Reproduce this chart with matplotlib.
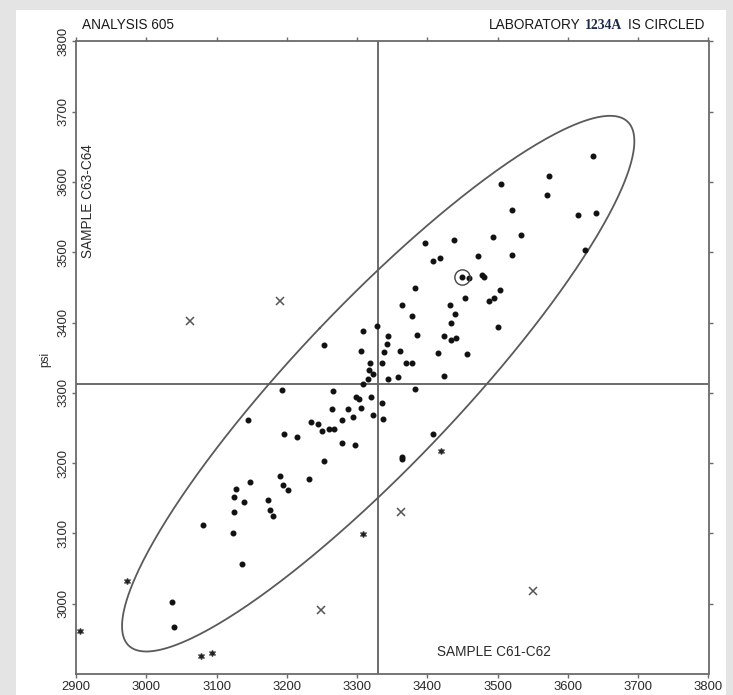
import numpy as np
import matplotlib
matplotlib.use("Agg")
import matplotlib.pyplot as plt
from matplotlib import font_manager as fm
from matplotlib.patches import Rectangle

# ---------------- data ----------------
dot_x = [3635, 3573, 3570, 3505, 3520, 3614, 3640, 3397, 3438, 3493, 3533, 3624,
         3408, 3418, 3472, 3520, 3459, 3477, 3481, 3383, 3504, 3453, 3487, 3495,
         3364, 3432, 3378, 3439, 3433, 3328, 3309, 3500, 3344, 3385, 3423, 3433,
         3441, 3342, 3306, 3338, 3361, 3415, 3456, 3318, 3335, 3369, 3378, 3317,
         3323, 3344, 3358, 3424, 3316, 3309, 3265, 3382, 3299, 3302, 3320, 3335,
         3306, 3287, 3264, 3253, 3193, 3323, 3337, 3145, 3235, 3245, 3250, 3260,
         3267, 3279, 3294, 3196, 3214, 3278, 3297, 3253, 3190, 3148, 3194, 3128,
         3202, 3125, 3231, 3139, 3173, 3176, 3180, 3125, 3081, 3123, 3136, 3037,
         3039, 3408, 3364, 3364]
dot_y = [3637, 3609, 3582, 3597, 3560, 3553, 3556, 3513, 3518, 3522, 3524, 3503,
         3487, 3492, 3495, 3496, 3464, 3467, 3465, 3449, 3446, 3435, 3431, 3435,
         3425, 3425, 3409, 3412, 3400, 3395, 3388, 3393, 3381, 3382, 3381, 3375,
         3378, 3369, 3359, 3358, 3359, 3357, 3355, 3343, 3342, 3343, 3343, 3333,
         3327, 3320, 3323, 3324, 3319, 3312, 3303, 3305, 3294, 3291, 3294, 3286,
         3279, 3277, 3277, 3368, 3304, 3269, 3263, 3262, 3258, 3256, 3246, 3248,
         3248, 3262, 3265, 3241, 3237, 3229, 3226, 3203, 3181, 3173, 3169, 3163,
         3162, 3152, 3177, 3145, 3147, 3133, 3125, 3131, 3112, 3101, 3056, 3002,
         2967, 3242, 3209, 3206]

circled_x = [3449]
circled_y = [3465]

cross_x = [3062, 3190, 3249, 3363, 3550]
cross_y = [3402, 3431, 2991, 3131, 3018]

star_x = [2972, 2905, 3078, 3093, 3308, 3420]
star_y = [3033, 2961, 2926, 2930, 3099, 3217]

median_x = 3330
median_y = 3313
ell_var_x = 132860
ell_var_y = 145161
ell_cov = 125700

x_ticks = [2900, 3000, 3100, 3200, 3300, 3400, 3500, 3600, 3700, 3800]
y_ticks = [3000, 3100, 3200, 3300, 3400, 3500, 3600, 3700, 3800]

# ---------------- fonts ----------------
names = {f.name for f in fm.fontManager.ttflist}
if "Liberation Sans Narrow" in names:
    SANS = ["Liberation Sans Narrow", "DejaVu Sans"]
    fs = 11.0
else:
    SANS = ["Liberation Sans", "DejaVu Sans"]
    fs = 9.4
plt.rcParams["font.family"] = SANS

# ---------------- figure ----------------
W, H = 733, 695
fig = plt.figure(figsize=(W / 100, H / 100), dpi=100)
fig.patch.set_facecolor("#e4e4e4")
fig.patches.append(Rectangle((16 / W, 0), (726 - 16) / W, (H - 10) / H,
                             transform=fig.transFigure, facecolor="white",
                             edgecolor="none", zorder=-10))

left, right, top, bottom = 76, 708.5, 41.3, 674
ax = fig.add_axes([left / W, 1 - bottom / H, (right - left) / W, (bottom - top) / H])
ax.set_facecolor("white")
ax.set_xlim(2900, 3800)
ax.set_ylim(2900, 3800)

for s in ax.spines.values():
    s.set_color("#6a6a6a")
    s.set_linewidth(1.3)

ax.set_xticks(x_ticks)
ax.set_yticks(y_ticks)
ax.set_xticklabels([str(v) for v in x_ticks])
ax.set_yticklabels([str(v) for v in y_ticks], rotation=90, va="center")
ax.tick_params(axis="both", direction="out", length=3, width=1, color="#6a6a6a",
               labelsize=fs, labelcolor="#2a2a2a", top=True, right=True)
ax.tick_params(axis="x", pad=2)
ax.tick_params(axis="y", pad=2)

# crosshair (medians)
ax.axvline(median_x, color="#6a6a6a", lw=1.4, zorder=1)
ax.axhline(median_y, color="#6a6a6a", lw=1.4, zorder=1)

# ellipse
M = np.array([[ell_var_x, ell_cov], [ell_cov, ell_var_y]])
vals, vecs = np.linalg.eigh(M)
t = np.linspace(0, 2 * np.pi, 400)
pts = vecs @ np.diag(np.sqrt(vals)) @ np.vstack([np.cos(t), np.sin(t)])
ax.plot(median_x + pts[0], median_y + pts[1], color="#5a5a5a", lw=1.3, zorder=2)

# points
ax.plot(dot_x, dot_y, "o", ms=3.3, color="#111111", mec="#111111", zorder=3)
ax.plot(circled_x, circled_y, "o", ms=3.3, color="#111111", zorder=3)
ax.plot(circled_x, circled_y, "o", ms=11, mfc="none", mec="#444444", mew=1.0, zorder=3)
ax.plot(cross_x, cross_y, "x", ms=5.5, mew=1.1, color="#555555", zorder=3)
ax.plot(star_x, star_y, marker=(6, 2, 0), ls="none", ms=5, mew=0.9, color="#666666", zorder=3)
ax.plot(star_x, star_y, "o", ms=2.3, color="#222222", zorder=4)

# texts
ax.text(0.019, 0.657, "SAMPLE C63-C64", transform=ax.transAxes, rotation=90,
        ha="center", va="bottom", fontsize=fs + 0.4, color="#2a2a2a")
ax.text(0.66, 0.024, "SAMPLE C61-C62", transform=ax.transAxes,
        ha="center", va="bottom", fontsize=fs + 0.4, color="#2a2a2a")
fig.text(45 / W, 1 - 359 / H, "psi", rotation=90, ha="center", va="center",
         fontsize=fs - 0.8, color="#2a2a2a")

base_y = 1 - 29 / H
fig.text(82 / W, base_y, "ANALYSIS 605", ha="left", va="baseline",
         fontsize=fs + 0.4, color="#1a1a1a")

fig.canvas.draw()
r = fig.canvas.get_renderer()
t3 = fig.text(704 / W, base_y, "IS CIRCLED", ha="right", va="baseline",
              fontsize=fs + 0.4, color="#1a1a1a")
bb = t3.get_window_extent(r)
t2 = fig.text((bb.x0 - 5) / W, base_y, "1234A", ha="right", va="baseline",
              fontsize=fs + 0.4, color="#1c2b4a", family=["Liberation Serif", "DejaVu Serif"],
              fontweight="bold")
bb2 = t2.get_window_extent(r)
fig.text((bb2.x0 - 5) / W, base_y, "LABORATORY", ha="right", va="baseline",
         fontsize=fs + 0.4, color="#1a1a1a")

fig.savefig("out.png", dpi=100, facecolor=fig.get_facecolor())
